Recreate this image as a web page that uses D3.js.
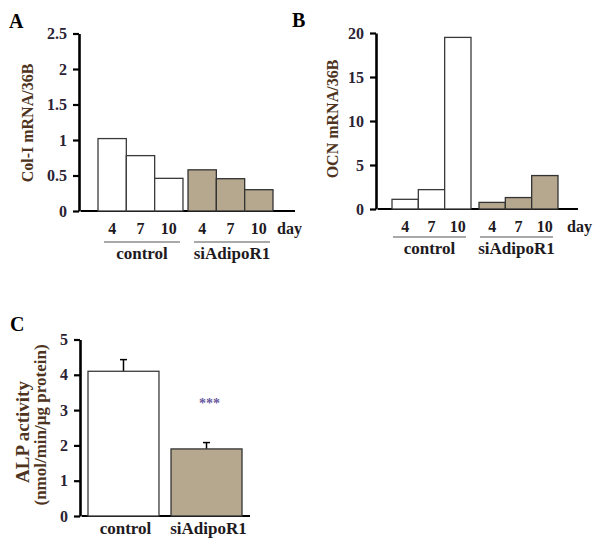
<!DOCTYPE html>
<html>
<head>
<meta charset="utf-8">
<script src="https://cdn.jsdelivr.net/npm/d3@7"></script>
<style>
  html, body { margin: 0; padding: 0; background: #fff; }
  svg { display: block; }
  text { font-family: "Liberation Serif", "Times New Roman", serif; font-weight: bold; }
</style>
</head>
<body>
<svg id="chart" width="600" height="548"></svg>
<script>
// ---- data ----
const days = ["4", "7", "10"];
const groups = ["control", "siAdipoR1"];
const col1Control = [1.02, 0.78, 0.46];
const col1Si = [0.58, 0.455, 0.30];
const ocnControl = [1.1, 2.2, 19.5];
const ocnSi = [0.75, 1.3, 3.8];
const alpMean = [4.1, 1.9];
const alpErr = [0.33, 0.18];
const colTicks = [0, 0.5, 1, 1.5, 2, 2.5];
const ocnTicks = [0, 5, 10, 15, 20];
const alpTicks = [0, 1, 2, 3, 4, 5];
const colTitle = "Col-I mRNA/36B";
const ocnTitle = "OCN mRNA/36B";
const alpTitle1 = "ALP activity";
const alpTitle2 = "(nmol/min/\u00b5g protein)";
const dayLabel = "day";
const significance = "***";

// ---- styles ----
const TAN = "#b6a78f";
const TICK_COLOR = "#2a2233";
const TITLE_COLOR = "#4e3320";
const LABEL_COLOR = "#1e1a1e";

const svg = d3.select("#chart");

function yAxis(g, y, ticks, x0) {
  const ax = d3.axisLeft(y).tickValues(ticks).tickSize(6).tickPadding(6).tickSizeOuter(0)
    .tickFormat(d => String(d));
  const sel = g.append("g").attr("transform", `translate(${x0},0)`).call(ax);
  sel.select(".domain").attr("stroke", "#000").attr("stroke-width", 2.6);
  sel.selectAll(".tick line").attr("stroke", "#000").attr("stroke-width", 2.2);
  sel.selectAll(".tick text").attr("fill", TICK_COLOR)
    .style("font-size", "16px").style("font-family", "Liberation Serif").style("font-weight", "bold");
  return sel;
}

function timePanel(cfg) {
  const g = svg.append("g");
  const y = d3.scaleLinear().domain(cfg.domain).range(cfg.yRange);
  const xg = d3.scaleBand().domain(groups).range(cfg.xRange).paddingInner(cfg.gpad).paddingOuter(0);
  const xd = d3.scaleBand().domain(days).range([0, xg.bandwidth()]).padding(0);
  const series = [cfg.control, cfg.si];

  // x axis line
  g.append("line").attr("x1", cfg.axisX + 2).attr("x2", cfg.xEnd)
    .attr("y1", y(0)).attr("y2", y(0)).attr("stroke", "#000").attr("stroke-width", 2);

  groups.forEach((grp, gi) => {
    const gx = xg(grp);
    g.selectAll(null).data(series[gi]).enter().append("rect")
      .attr("x", (d, i) => gx + xd(days[i]))
      .attr("y", d => y(d))
      .attr("width", xd.bandwidth())
      .attr("height", d => y(0) - y(d))
      .attr("fill", gi === 0 ? "#fff" : TAN)
      .attr("stroke", gi === 0 ? "#3a3a3a" : "#333")
      .attr("stroke-width", 1.3);
    // day labels
    g.selectAll(null).data(days).enter().append("text")
      .attr("x", d => gx + xd(d) + xd.bandwidth() / 2)
      .attr("y", cfg.dayY)
      .attr("text-anchor", "middle")
      .attr("fill", LABEL_COLOR)
      .style("font-size", "16px")
      .text(d => d);
    // underline
    g.append("line")
      .attr("x1", gx + cfg.ulPad[0]).attr("x2", gx + xg.bandwidth() - cfg.ulPad[1])
      .attr("y1", cfg.ulY).attr("y2", cfg.ulY)
      .attr("stroke", "#555").attr("stroke-width", 1.2);
    g.append("text")
      .attr("x", gx + (cfg.ulPad[0] + xg.bandwidth() - cfg.ulPad[1]) / 2)
      .attr("y", cfg.grpY)
      .attr("text-anchor", "middle")
      .attr("fill", LABEL_COLOR)
      .style("font-size", "17px")
      .text(grp);
  });

  g.append("text").attr("x", cfg.dayX).attr("y", cfg.dayY)
    .attr("fill", LABEL_COLOR).style("font-size", "16px").text(dayLabel);

  yAxis(g, y, cfg.ticks, cfg.axisX);

  g.append("text")
    .attr("transform", `translate(${cfg.titleX},${cfg.titleY}) rotate(-90)`)
    .attr("text-anchor", "middle")
    .attr("fill", TITLE_COLOR)
    .style("font-size", "16px")
    .text(cfg.title);

  g.append("text").attr("x", cfg.letter[1]).attr("y", cfg.letter[2])
    .attr("fill", "#000").style("font-size", "20px").text(cfg.letter[0]);
}

// Panel A
timePanel({
  control: col1Control, si: col1Si, domain: [0, 2.5], yRange: [211, 33.5],
  xRange: [98, 273], gpad: 0.056, axisX: 79, xEnd: 295, ticks: colTicks,
  dayY: 234, dayX: 277, ulY: 242, ulPad: [6, 3], grpY: 259,
  title: colTitle, titleX: 33, titleY: 123, letter: ["A", 9, 28]
});

// Panel B
timePanel({
  control: ocnControl, si: ocnSi, domain: [0, 20], yRange: [209, 33],
  xRange: [392, 558], gpad: 0.092, axisX: 376, xEnd: 578, ticks: ocnTicks,
  dayY: 232, dayX: 567, ulY: 237, ulPad: [1, 5], grpY: 254,
  title: ocnTitle, titleX: 338, titleY: 119, letter: ["B", 292, 27]
});

// Panel C
(function () {
  const g = svg.append("g");
  const y = d3.scaleLinear().domain([0, 5]).range([516, 339.5]);
  const x = d3.scaleBand().domain(groups).range([88, 242]).paddingInner(0.145).paddingOuter(0);

  g.append("line").attr("x1", 82).attr("x2", 250).attr("y1", y(0)).attr("y2", y(0))
    .attr("stroke", "#000").attr("stroke-width", 2);

  groups.forEach((grp, i) => {
    const cx = x(grp) + x.bandwidth() / 2;
    g.append("line").attr("x1", cx).attr("x2", cx)
      .attr("y1", y(alpMean[i])).attr("y2", y(alpMean[i] + alpErr[i]))
      .attr("stroke", "#000").attr("stroke-width", 1.5);
    g.append("line").attr("x1", cx - 3.5).attr("x2", cx + 3.5)
      .attr("y1", y(alpMean[i] + alpErr[i])).attr("y2", y(alpMean[i] + alpErr[i]))
      .attr("stroke", "#000").attr("stroke-width", 1.5);
  });

  g.selectAll(null).data(alpMean).enter().append("rect")
    .attr("x", (d, i) => x(groups[i]))
    .attr("y", d => y(d))
    .attr("width", x.bandwidth())
    .attr("height", d => y(0) - y(d))
    .attr("fill", (d, i) => i === 0 ? "#fff" : TAN)
    .attr("stroke", (d, i) => i === 0 ? "#3a3a3a" : "#333")
    .attr("stroke-width", 1.3);

  g.selectAll(null).data(groups).enter().append("text")
    .attr("x", d => x(d) + x.bandwidth() / 2 + 2)
    .attr("y", 534)
    .attr("text-anchor", "middle")
    .attr("fill", LABEL_COLOR)
    .style("font-size", "17px")
    .text(d => d);

  g.append("text")
    .attr("x", x(groups[1]) + x.bandwidth() / 2 + 3)
    .attr("y", 408)
    .attr("text-anchor", "middle")
    .attr("fill", "#6a5c9e")
    .style("font-size", "14px")
    .text(significance);

  yAxis(g, y, alpTicks, 80);

  g.append("text")
    .attr("transform", `translate(29,432) rotate(-90)`)
    .attr("text-anchor", "middle").attr("fill", TITLE_COLOR)
    .style("font-size", "19px").text(alpTitle1);
  g.append("text")
    .attr("transform", `translate(46,425) rotate(-90)`)
    .attr("text-anchor", "middle").attr("fill", TITLE_COLOR)
    .style("font-size", "17px").text(alpTitle2);

  g.append("text").attr("x", 10).attr("y", 331)
    .attr("fill", "#000").style("font-size", "20px").text("C");
})();
</script>
</body>
</html>
